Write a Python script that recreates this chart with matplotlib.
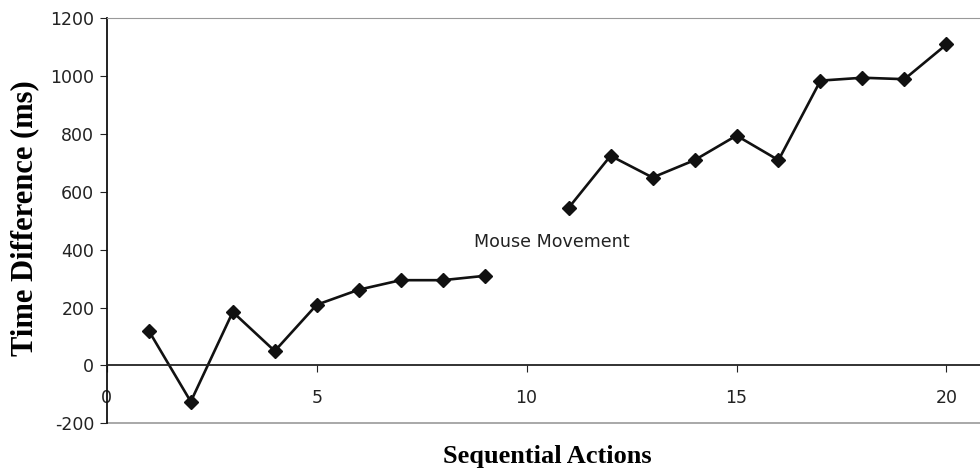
import matplotlib
matplotlib.use('Agg')
import matplotlib.pyplot as plt

plt.rcParams['axes.unicode_minus'] = False

# values
actions_a = [1, 2, 3, 4, 5, 6, 7, 8, 9]
time_a = [120, -125, 185, 50, 210, 262, 295, 295, 310]
actions_b = [11, 12, 13, 14, 15, 16, 17, 18, 19, 20]
time_b = [545, 725, 650, 710, 795, 710, 985, 995, 990, 1110]

xticks = [0, 5, 10, 15, 20]
yticks = [-200, 0, 200, 400, 600, 800, 1000, 1200]

fig = plt.figure(figsize=(9.8, 4.73), dpi=100)
ax = fig.add_axes([0.109, 0.105, 0.891, 0.856])

line_kw = dict(color='#111111', linewidth=1.9, marker='D', markersize=7.5, clip_on=False)
ax.plot(actions_a, time_a, **line_kw)
ax.plot(actions_b, time_b, **line_kw)

ax.set_xlim(0, 20.8)
ax.set_ylim(-200, 1200)
ax.set_xticks(xticks)
ax.set_yticks(yticks)

# x axis sits on the zero line, grey frame lines at top and bottom
ax.spines['bottom'].set_position(('data', 0))
ax.spines['bottom'].set_color('#222222')
ax.spines['bottom'].set_linewidth(1.3)
ax.spines['left'].set_color('#111111')
ax.spines['left'].set_linewidth(1.3)
ax.spines['top'].set_color('#999999')
ax.spines['right'].set_visible(False)
ax.axhline(-200, color='#999999', linewidth=1.2, clip_on=False)

ax.tick_params(axis='x', direction='out', length=5, pad=12, labelsize=12.5, colors='#222222')
ax.tick_params(axis='y', direction='out', length=5, pad=4, labelsize=12.5, colors='#222222')

ax.text(8.74, 428, 'Mouse Movement', fontsize=12.6, ha='left', va='center', color='#222222')

ax.set_xlabel('Sequential Actions', family='Liberation Serif', weight='bold', size=19)
ax.xaxis.set_label_coords(0.505, -0.053)
ax.set_ylabel('Time Difference (ms)', family='Liberation Serif', weight='bold', size=22)
ax.yaxis.set_label_coords(-0.094, 0.508)
ax.yaxis.label.set_va('center')

plt.savefig('out.png', dpi=100)
